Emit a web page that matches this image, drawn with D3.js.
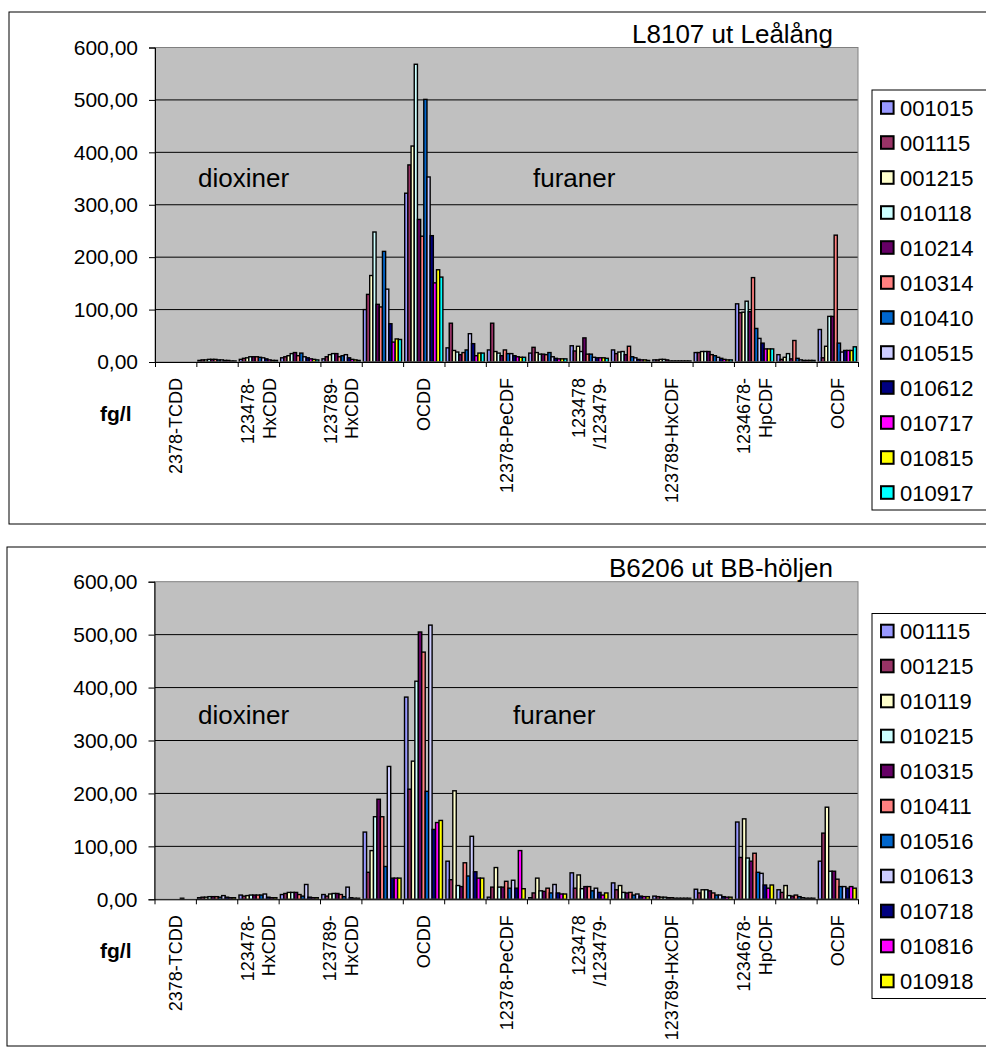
<!DOCTYPE html>
<html>
<head>
<meta charset="utf-8">
<script src="https://cdn.jsdelivr.net/npm/d3@7"></script>
<style>
  body { margin: 0; background: #fff; }
  svg { display: block; font-family: Arial, "Liberation Sans", sans-serif; }
</style>
</head>
<body>
<div id="viz"></div>
<script>
// congeners on the x axis (17), only every other one gets a label
var categories = ["2378-TCDD", "12378-PeCDD", "123478-HxCDD", "123678-HxCDD", "123789-HxCDD",
  "1234678-HpCDD", "OCDD", "2378-TCDF", "12378-PeCDF", "23478-PeCDF", "123478/123479-HxCDF",
  "123678-HxCDF", "123789-HxCDF", "234678-HxCDF", "1234678-HpCDF", "1234789-HpCDF", "OCDF"];
var tickLabels = [["2378-TCDD"], null, ["123478-", "HxCDD"], null, ["123789-", "HxCDD"], null,
  ["OCDD"], null, ["12378-PeCDF"], null, ["123478", "/123479-"], null, ["123789-HxCDF"], null,
  ["1234678-", "HpCDF"], null, ["OCDF"]];
var yTicks = [0, 100, 200, 300, 400, 500, 600];

// excel default series colours
var palette = ["#9999FF", "#993366", "#FFFFCC", "#CCFFFF", "#660066", "#FF8080",
  "#0066CC", "#CCCCFF", "#000080", "#FF00FF", "#FFFF00", "#00FFFF"];

// L8107 ut Leålång - sampling dates
var seriesLealang = ["001015", "001115", "001215", "010118", "010214", "010314",
  "010410", "010515", "010612", "010717", "010815", "010917"];
// one row per congener, one value per sampling date (fg/l)
var valuesLealang = [
  [0, 0, 0, 0, 0, 0, 0, 0, 0, 0, 0, 0],
  [3, 4, 4, 5, 5, 5, 4, 4, 3, 3, 2, 2],
  [5, 7, 8, 10, 10, 10, 9, 8, 6, 4, 3, 3],
  [8, 10, 12, 16, 18, 12, 17, 10, 8, 6, 5, 4],
  [6, 10, 14, 16, 16, 10, 12, 14, 8, 5, 4, 3],
  [100, 129, 165, 248, 110, 105, 211, 139, 73, 38, 44, 43],
  [322, 376, 412, 568, 272, 240, 501, 353, 241, 151, 176, 162],
  [27, 74, 22, 19, 14, 18, 23, 54, 35, 12, 17, 17],
  [23, 74, 20, 17, 12, 23, 16, 16, 12, 10, 9, 9],
  [17, 28, 18, 15, 15, 14, 18, 10, 7, 6, 6, 6],
  [31, 21, 30, 20, 46, 15, 15, 9, 8, 8, 8, 7],
  [23, 16, 19, 20, 14, 30, 10, 8, 5, 4, 4, 3],
  [4, 4, 5, 5, 4, 2, 2, 2, 2, 2, 2, 2],
  [18, 18, 20, 20, 20, 14, 12, 9, 7, 5, 4, 4],
  [111, 94, 95, 116, 96, 161, 64, 45, 36, 25, 25, 25],
  [14, 5, 9, 16, 6, 41, 7, 4, 3, 3, 3, 3],
  [62, 8, 30, 87, 87, 242, 36, 19, 22, 22, 22, 29]
];

// B6206 ut BB-höljen - sampling dates
var seriesHoljen = ["001115", "001215", "010119", "010215", "010315", "010411",
  "010516", "010613", "010718", "010816", "010918"];
var valuesHoljen = [
  [0, 0, 0, 0, 0, 0, 0, 2, 0, 0, 0],
  [3, 4, 4, 5, 5, 5, 4, 7, 4, 3, 3],
  [8, 6, 7, 8, 8, 8, 8, 10, 4, 3, 3],
  [9, 11, 13, 13, 13, 9, 6, 28, 4, 3, 3],
  [9, 6, 10, 11, 11, 9, 5, 23, 3, 2, 2],
  [127, 51, 92, 156, 189, 156, 62, 251, 40, 40, 40],
  [382, 208, 261, 412, 505, 467, 204, 518, 132, 145, 149],
  [72, 37, 205, 26, 24, 69, 44, 119, 52, 40, 40],
  [4, 23, 60, 23, 23, 34, 21, 36, 21, 92, 20],
  [3, 12, 40, 16, 15, 21, 12, 28, 12, 10, 10],
  [50, 21, 46, 20, 24, 24, 16, 21, 13, 8, 12],
  [31, 18, 26, 13, 12, 13, 8, 10, 6, 5, 5],
  [6, 5, 4, 4, 3, 3, 2, 2, 2, 2, 2],
  [19, 12, 18, 18, 16, 12, 8, 8, 5, 4, 4],
  [146, 79, 152, 78, 72, 87, 51, 49, 27, 21, 27],
  [18, 13, 26, 7, 6, 8, 5, 3, 2, 2, 2],
  [72, 125, 174, 53, 53, 38, 24, 24, 21, 24, 21]
];

var svg = d3.select("#viz").append("svg")
  .attr("width", 986)
  .attr("height", 1054);

var fmt = function (v) { return v.toFixed(2).replace(".", ","); };

var drawChart = function (cfg) {
  var g = svg.append("g");

  // outer chart frame (runs off the right edge like the original)
  g.append("rect")
    .attr("x", cfg.box[0]).attr("y", cfg.box[1])
    .attr("width", 1000).attr("height", cfg.box[2] - cfg.box[1])
    .attr("fill", "#fff").attr("stroke", "#000").attr("stroke-width", 1);

  var left = cfg.plot[0], top = cfg.plot[1], right = cfg.plot[2], bottom = cfg.plot[3];

  var x0 = d3.scaleBand().domain(categories).range([left, right]).padding(0);
  var x1 = d3.scaleBand().domain(cfg.series).range([0, x0.bandwidth()])
    .paddingInner(0).paddingOuter(0.5);
  var y = d3.scaleLinear().domain([0, 600]).range([bottom, top]);
  var color = d3.scaleOrdinal().domain(cfg.series).range(palette);

  g.append("rect")
    .attr("x", left).attr("y", top)
    .attr("width", right - left).attr("height", bottom - top)
    .attr("fill", "#C0C0C0");

  g.selectAll("line.grid")
    .data(yTicks.filter(function (t) { return t > 0 && t < 600; }))
    .enter().append("line")
    .attr("class", "grid")
    .attr("x1", left).attr("x2", right)
    .attr("y1", function (d) { return y(d); })
    .attr("y2", function (d) { return y(d); })
    .attr("stroke", "#000").attr("stroke-width", 1);

  var groups = g.selectAll("g.cat")
    .data(cfg.values)
    .enter().append("g")
    .attr("class", "cat")
    .attr("transform", function (d, i) { return "translate(" + x0(categories[i]) + ",0)"; });

  groups.selectAll("rect")
    .data(function (row) {
      return row.map(function (v, j) { return { key: cfg.series[j], value: v }; });
    })
    .enter().append("rect")
    .attr("x", function (d) { return x1(d.key); })
    .attr("y", function (d) { return y(d.value); })
    .attr("width", x1.bandwidth())
    .attr("height", function (d) { return y(0) - y(d.value); })
    .attr("fill", function (d) { return color(d.key); })
    .attr("stroke", "#000")
    .attr("stroke-width", 1.4);

  // plot area border
  g.append("rect")
    .attr("x", left).attr("y", top)
    .attr("width", right - left).attr("height", bottom - top)
    .attr("fill", "none").attr("stroke", "#808080").attr("stroke-width", 1);

  // y axis
  var yAxis = d3.axisLeft(y).tickValues(yTicks).tickSize(6).tickPadding(11).tickFormat(fmt);
  var ya = g.append("g").attr("transform", "translate(" + left + ",0)").call(yAxis);
  ya.select(".domain").attr("stroke", "#000");
  ya.selectAll("text").attr("font-size", 21).attr("fill", "#000")
    .attr("font-family", "Arial, 'Liberation Sans', sans-serif");

  // x axis: ticks sit on the category boundaries
  var xIdx = d3.scaleLinear().domain([0, categories.length]).range([left, right]);
  var xAxis = d3.axisBottom(xIdx).tickValues(d3.range(categories.length + 1))
    .tickFormat("").tickSize(5).tickSizeOuter(0);
  var xa = g.append("g").attr("transform", "translate(0," + bottom + ")").call(xAxis);
  xa.select(".domain").attr("stroke", "#000");

  // rotated category labels
  tickLabels.forEach(function (lines, i) {
    if (!lines) return;
    var cx = x0(categories[i]) + x0.bandwidth() / 2;
    var t = g.append("text")
      .attr("transform", "translate(" + cx + "," + (bottom + 16) + ") rotate(-90)")
      .attr("text-anchor", "end")
      .attr("font-size", 18);
    lines.forEach(function (line, k) {
      t.append("tspan")
        .attr("x", 0)
        .attr("y", 6.5 + (k - (lines.length - 1) / 2) * 21.5)
        .text(line);
    });
  });

  g.append("text")
    .attr("x", 100).attr("y", bottom + 59)
    .attr("font-size", 21).attr("font-weight", "bold")
    .text("fg/l");

  g.append("text")
    .attr("x", 833).attr("y", top - 5)
    .attr("text-anchor", "end").attr("font-size", 26)
    .text(cfg.title);

  g.append("text")
    .attr("x", 198).attr("y", cfg.groupY)
    .attr("font-size", 26).text("dioxiner");
  g.append("text")
    .attr("x", cfg.furanX).attr("y", cfg.groupY)
    .attr("font-size", 26).text("furaner");

  // legend
  var lg = g.append("g").attr("transform", "translate(872," + cfg.legendTop + ")");
  lg.append("rect")
    .attr("width", 120).attr("height", cfg.series.length * 35)
    .attr("fill", "#fff").attr("stroke", "#000").attr("stroke-width", 1);
  var items = lg.selectAll("g.item")
    .data(cfg.series)
    .enter().append("g")
    .attr("class", "item")
    .attr("transform", function (d, i) { return "translate(0," + (17.5 + i * 35) + ")"; });
  items.append("rect")
    .attr("x", 9).attr("y", -6.3)
    .attr("width", 12.6).attr("height", 12.6)
    .attr("fill", function (d) { return color(d); })
    .attr("stroke", "#000").attr("stroke-width", 2);
  items.append("text")
    .attr("x", 28).attr("y", 8)
    .attr("font-size", 22)
    .text(function (d) { return d; });
};

drawChart({
  box: [9, 12, 524],
  plot: [155, 47.5, 858, 362],
  title: "L8107 ut Leålång",
  groupY: 187,
  furanX: 533,
  legendTop: 90,
  series: seriesLealang,
  values: valuesLealang
});

drawChart({
  box: [7, 547, 1046],
  plot: [154.5, 581.7, 858, 899.3],
  title: "B6206 ut BB-höljen",
  groupY: 724,
  furanX: 513,
  legendTop: 613.5,
  series: seriesHoljen,
  values: valuesHoljen
});
</script>
</body>
</html>
